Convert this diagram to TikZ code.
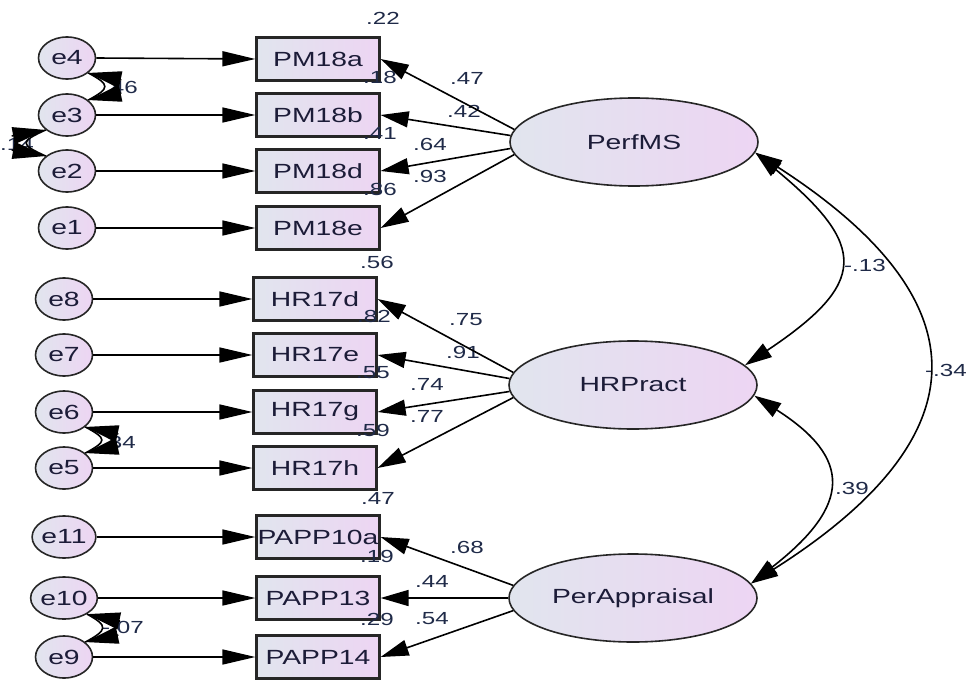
\documentclass[tikz,border=0pt]{standalone}
\usepackage{fontspec}
\setmainfont{Liberation Sans}[FakeStretch=1.38]
\usetikzlibrary{shapes.geometric,arrows.meta}
\definecolor{cL}{HTML}{E1E5EE}
\definecolor{cR}{HTML}{EDD5F3}
\definecolor{txt}{HTML}{1C1C38}
\definecolor{lab}{HTML}{1F2A48}
\begin{document}
\begin{tikzpicture}[x=1pt,y=-1pt,
  err/.style={ellipse,draw=black!85,line width=1.6pt,minimum width=57pt,minimum height=42pt,inner sep=0pt,left color=cL,right color=cR,text=txt,font=\fontsize{20.5}{22}\selectfont},
  obs/.style={rectangle,draw=black!85,line width=2.2pt,minimum width=123pt,minimum height=43pt,inner sep=0pt,left color=cL,right color=cR,text=txt,font=\fontsize{20.5}{22}\selectfont},
  lat/.style={ellipse,draw=black!85,line width=1.6pt,minimum width=248pt,minimum height=88pt,inner sep=0pt,left color=cL,right color=cR,text=txt,font=\fontsize{20.5}{22}\selectfont},
  lbl/.style={text=lab,font=\fontsize{17.5}{19}\selectfont,inner sep=0pt},
  pth/.style={line width=1.6pt,-{Triangle[length=33pt,width=15pt]}},
  lpth/.style={line width=1.6pt,-{Triangle[length=28pt,width=16pt]}},
  cov/.style={line width=1.6pt,{Triangle[length=27pt,width=16pt]}-{Triangle[length=27pt,width=16pt]}},
  ecurve/.style={line width=1.6pt},
  ehead/.style={line width=1.6pt,{Triangle[length=33pt,width=17pt]}-}
]
\useasboundingbox (0,0) rectangle (968,682);
% error terms
\node[err] (e4) at (67,58) {e4};
\node[err] (e3) at (67,115) {e3};
\node[err] (e2) at (67,171) {e2};
\node[err] (e1) at (67,228) {e1};
\node[err] (e8) at (64,299) {e8};
\node[err] (e7) at (64,355) {e7};
\node[err] (e6) at (64,412) {e6};
\node[err] (e5) at (64,468) {e5};
\node[err] (e11) at (64,537) {e11};
\node[err] (e10) at (64,598) {e10};
\node[err] (e9) at (64,657) {e9};
% observed
\node[obs] (PM18a) at (318,59) {PM18a};
\node[obs] (PM18b) at (318,115) {PM18b};
\node[obs] (PM18d) at (318,171) {PM18d};
\node[obs] (PM18e) at (318,228) {PM18e};
\node[obs] (HR17d) at (315,299) {HR17d};
\node[obs] (HR17e) at (315,355) {HR17e};
\node[obs] (HR17g) at (315,412) {HR17g};
\node[obs] (HR17h) at (315,468) {HR17h};
\node[obs] (PAPP10a) at (318,537) {PAPP10a};
\node[obs] (PAPP13) at (318,598) {PAPP13};
\node[obs] (PAPP14) at (318,657) {PAPP14};
% latent
\node[lat] (PerfMS) at (634,142) {PerfMS};
\node[lat] (HRPract) at (633,385) {HRPract};
\node[lat] (PerAppraisal) at (633,598) {PerAppraisal};
% R2 labels
\node[lbl] (r1) at (383,18) {.22};
\node[lbl] (r2) at (380,77) {.18};
\node[lbl] (r3) at (380,133) {.41};
\node[lbl] (r4) at (380,189) {.86};
\node[lbl] (r5) at (377,262) {.56};
\node[lbl] (r6) at (374,316) {.82};
\node[lbl] (r7) at (373,373) {.55};
\node[lbl] (r8) at (373,430) {.59};
\node[lbl] (r9) at (378,498) {.47};
\node[lbl] (r10) at (377,556) {.19};
\node[lbl] (r11) at (377,619) {.29};
% loading labels
\node[lbl] (l1) at (467,78) {.47};
\node[lbl] (l2) at (464,111) {.42};
\node[lbl] (l3) at (430,144) {.64};
\node[lbl] (l4) at (430,176) {.93};
\node[lbl] (l5) at (466,320) {.75};
\node[lbl] (l6) at (463,352) {.91};
\node[lbl] (l7) at (427,384) {.74};
\node[lbl] (l8) at (427,416) {.77};
\node[lbl] (l9) at (467,547) {.68};
\node[lbl] (l10) at (432,581) {.44};
\node[lbl] (l11) at (432,619) {.54};
% covariance labels
\node[lbl] (c1) at (865,265) {-.13};
\node[lbl,anchor=east] (c2) at (967,370) {-.34};
\node[lbl] (c3) at (852,488) {.39};
\node[lbl,anchor=east] (c4) at (138,87) {.46};
\node[lbl,anchor=west] (c5) at (0,144) {.14};
\node[lbl,anchor=east] (c6) at (136,442) {.34};
\node[lbl,anchor=east] (c7) at (144,627) {-.07};
% error paths
\foreach \e/\b in {e4/PM18a,e3/PM18b,e2/PM18d,e1/PM18e,e8/HR17d,e7/HR17e,e6/HR17g,e5/HR17h,e11/PAPP10a,e10/PAPP13,e9/PAPP14}
  \draw[pth] (\e.east) -- (\b.west);
% loadings
\draw[lpth] (PerfMS.174) -- (PM18a.east);
\draw[lpth] (PerfMS.177) -- (PM18b.east);
\draw[lpth] (PerfMS.183) -- (PM18d.east);
\draw[lpth] (PerfMS.186) -- (PM18e.east);
\draw[lpth] (HRPract.174) -- (HR17d.east);
\draw[lpth] (HRPract.177) -- (HR17e.east);
\draw[lpth] (HRPract.183) -- (HR17g.east);
\draw[lpth] (HRPract.186) -- (HR17h.east);
\draw[lpth] (PerAppraisal.174) -- (PAPP10a.east);
\draw[lpth] (PerAppraisal.180) -- (PAPP13.east);
\draw[lpth] (PerAppraisal.186) -- (PAPP14.east);
% latent covariances
\draw[cov] (PerfMS.-5) .. controls (868,246) and (868,283) .. (HRPract.10);
\draw[cov] (PerfMS.-5) .. controls (984,300) and (984,436) .. (PerAppraisal.7);
\draw[cov] (HRPract.-5) .. controls (852,458) and (852,505) .. (PerAppraisal.7);
% error covariances (right side)
\foreach \a/\b in {e4/e3,e6/e5,e10/e9}{
  \draw[ecurve] (\a.-35) .. controls +(22,12) and +(22,-12) .. (\b.35);
  \draw[ehead] (\a.-35) -- ++(33,7);
  \draw[ehead] (\b.35) -- ++(33,-7);
}
% error covariance (left side)
\draw[ecurve] (e3.-145) .. controls +(-26,12) and +(-26,-12) .. (e2.145);
\draw[ehead] (e3.-145) -- ++(-34,6);
\draw[ehead] (e2.145) -- ++(-34,-6);
\end{tikzpicture}
\end{document}
